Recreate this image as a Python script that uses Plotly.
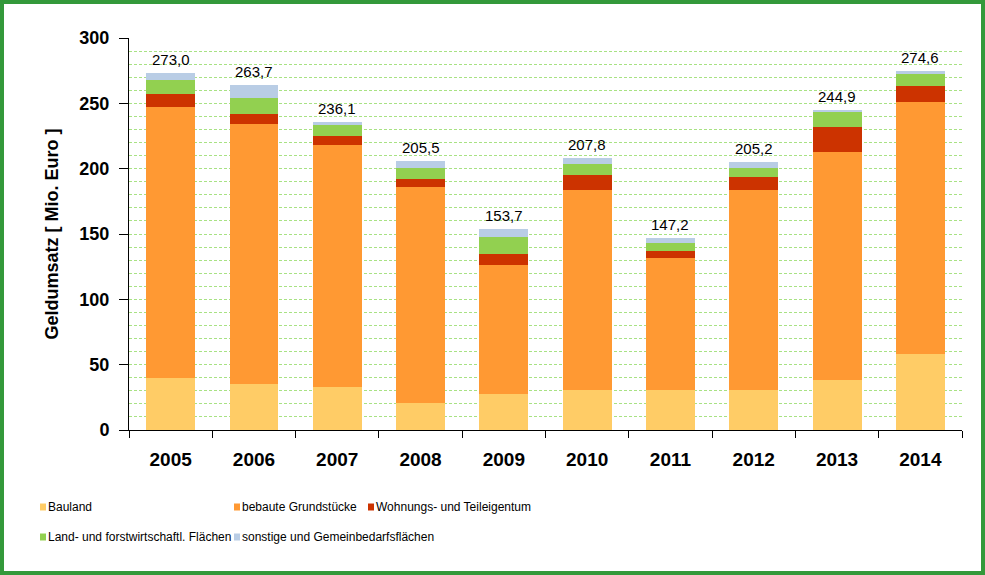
import plotly.graph_objects as go

years = ["2005", "2006", "2007", "2008", "2009", "2010", "2011", "2012", "2013", "2014"]
bauland = [40.0, 35.2, 33.0, 21.0, 27.6, 30.6, 30.6, 30.6, 38.3, 58.2]
bebaute = [207.4, 199.0, 185.3, 165.0, 98.7, 153.1, 101.0, 153.1, 174.5, 192.8]
wohnung = [9.7, 7.6, 6.7, 6.1, 8.4, 11.4, 5.6, 9.9, 19.1, 12.3]
land = [10.8, 12.3, 8.4, 8.4, 13.0, 8.5, 5.9, 6.9, 11.7, 9.1]
sonstige = [5.1, 9.6, 2.7, 5.0, 6.0, 4.2, 4.1, 4.7, 1.3, 2.2]
totals = [273.0, 263.7, 236.1, 205.5, 153.7, 207.8, 147.2, 205.2, 244.9, 274.6]
total_labels = ["273,0", "263,7", "236,1", "205,5", "153,7", "207,8", "147,2", "205,2", "244,9", "274,6"]

series_names = ["Bauland", "bebaute Grundstücke", "Wohnungs- und Teileigentum",
                "Land- und forstwirtschaftl. Flächen", "sonstige und Gemeinbedarfsflächen"]
series_values = [bauland, bebaute, wohnung, land, sonstige]
series_colors = ["#FFCC66", "#FF9933", "#CC3300", "#92D050", "#B9CDE5"]

W, H = 985, 575
L, R, T, B = 129, 23, 38, 145
pw = W - L - R
ph = H - T - B


def px_x(x):
    return (x - L) / pw


def px_y(y):
    return (T + ph - y) / ph


fig = go.Figure()
for name, vals, color in zip(series_names, series_values, series_colors):
    fig.add_trace(go.Bar(x=years, y=vals, name=name, marker=dict(color=color, line=dict(width=0)),
                         showlegend=False, hoverinfo="y+name"))

annotations = []
for idx, (tot, lab) in enumerate(zip(totals, total_labels)):
    # category axis: position by category index
    annotations.append(dict(xref="x", yref="y", x=idx, y=tot, text=lab, showarrow=False,
                            xanchor="center", yanchor="bottom", yshift=3,
                            font=dict(family="Arial, Liberation Sans", size=15, color="black")))

# legend (two rows, three columns) drawn as small squares + labels
leg_cols = [40, 234, 368]
leg_rows = [507, 537]
shapes = []
for i, (name, color) in enumerate(zip(series_names, series_colors)):
    cx = leg_cols[i % 3]
    cy = leg_rows[i // 3]
    shapes.append(dict(type="rect", xref="paper", yref="paper",
                       x0=px_x(cx), x1=px_x(cx + 6), y0=px_y(cy + 3.5), y1=px_y(cy - 3.5),
                       fillcolor=color, line=dict(width=0), layer="above"))
    annotations.append(dict(xref="paper", yref="paper", x=px_x(cx + 6), y=px_y(cy), text=name,
                            showarrow=False, xanchor="left", yanchor="middle",
                            font=dict(family="Arial, Liberation Sans", size=12, color="black")))

shapes.append(dict(type="rect", xref="paper", yref="paper",
                   x0=-L / pw, x1=1 + R / pw, y0=-B / ph, y1=1 + T / ph,
                   line=dict(color="#33993A", width=8), fillcolor="rgba(0,0,0,0)", layer="above"))

grid_color = "#A8E283"

fig.update_layout(
    width=W, height=H,
    margin=dict(l=L, r=R, t=T, b=B, pad=0),
    barmode="stack",
    bargap=0.413,
    plot_bgcolor="white",
    paper_bgcolor="white",
    showlegend=False,
    font=dict(family="Arial, Liberation Sans", color="black"),
    xaxis=dict(
        type="category", automargin=False, range=[-0.5, len(years) - 0.5],
        showline=True, linecolor="black", linewidth=1,
        ticks="outside", tickson="boundaries", ticklen=7, tickcolor="black",
        tickfont=dict(size=19, weight="bold"), tickangle=0,
        ticklabelstandoff=12,
        showgrid=False,
    ),
    yaxis=dict(
        range=[0, 300], dtick=50, automargin=False,
        showline=True, linecolor="black", linewidth=1,
        ticks="outside", ticklen=9, tickcolor="black",
        tickfont=dict(size=18, weight="bold"),
        ticklabelstandoff=6,
        showgrid=True, gridcolor=grid_color, griddash="3px,2px", gridwidth=1,
        zeroline=False,
        minor=dict(dtick=10, showgrid=True, gridcolor=grid_color, griddash="3px,2px", gridwidth=1, ticks=""),
        title=dict(text="Geldumsatz [ Mio. Euro ]", font=dict(size=18, weight="bold"), standoff=16),
    ),
    annotations=annotations,
    shapes=shapes,
)

fig.write_html("out.html", config={"displayModeBar": False},
               post_script="document.body.style.margin='0';")
